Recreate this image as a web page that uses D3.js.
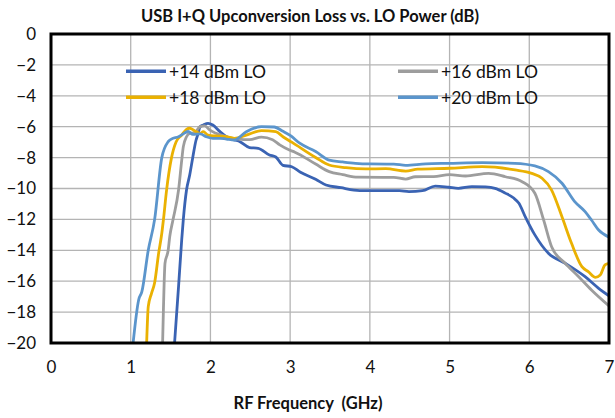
<!DOCTYPE html>
<html>
<head>
<meta charset="utf-8">
<script src="https://cdn.jsdelivr.net/npm/d3@7"></script>
<style>
    body { margin: 0; background: #fff; }
    svg text { font-family: Lato, "Open Sans", sans-serif; fill: #111; }
</style>
</head>
<body>
<svg id="chart" width="615" height="418"></svg>
<script>
// Readings (GHz, dB)
var xTicks = [0, 1, 2, 3, 4, 5, 6, 7];
var yTicks = [0, -2, -4, -6, -8, -10, -12, -14, -16, -18, -20];

var lo14Freq = [1.55, 1.60, 1.64, 1.66, 1.70, 1.74, 1.78, 1.82, 1.84, 1.87, 1.91, 1.97, 2.03, 2.12, 2.20, 2.30, 2.37, 2.49, 2.60, 2.74, 2.82, 2.91, 3.02, 3.13, 3.32, 3.45, 3.64, 3.80, 3.95, 4.16, 4.37, 4.49, 4.66, 4.82, 4.99, 5.11, 5.28, 5.45, 5.57, 5.70, 5.80, 5.87, 5.95, 6.07, 6.24, 6.45, 6.70, 6.87, 7.00];
var lo14Loss = [-20, -16.35, -13.3, -12.0, -10.1, -9.13, -7.94, -6.86, -6.54, -6.0, -5.89, -5.78, -5.89, -6.32, -6.65, -6.85, -6.97, -7.35, -7.4, -7.83, -7.96, -8.5, -8.59, -8.95, -9.4, -9.77, -9.95, -10.1, -10.14, -10.14, -10.14, -10.2, -10.14, -9.84, -9.92, -9.99, -9.88, -9.9, -9.99, -10.3, -10.6, -10.96, -11.83, -13.0, -14.19, -14.84, -15.71, -16.46, -16.95];

var lo16Freq = [1.40, 1.41, 1.43, 1.47, 1.49, 1.53, 1.60, 1.64, 1.66, 1.70, 1.74, 1.80, 1.87, 1.93, 1.99, 2.07, 2.20, 2.35, 2.49, 2.64, 2.78, 2.87, 2.99, 3.06, 3.32, 3.49, 3.66, 3.85, 4.16, 4.30, 4.45, 4.57, 4.80, 5.00, 5.20, 5.49, 5.70, 5.91, 6.07, 6.18, 6.28, 6.45, 6.62, 6.78, 7.00];
var lo16Loss = [-20, -17.9, -14.85, -14.0, -13.1, -12.04, -10.1, -8.16, -7.29, -6.65, -6.43, -6.39, -6.0, -5.95, -6.21, -6.43, -6.65, -6.8, -6.84, -6.67, -6.84, -7.18, -7.51, -7.65, -8.42, -8.91, -9.1, -9.27, -9.28, -9.28, -9.39, -9.24, -9.23, -9.1, -9.19, -9.02, -9.24, -9.56, -10.31, -12.04, -13.77, -14.84, -15.71, -16.57, -17.6];

var lo18Freq = [1.20, 1.22, 1.26, 1.30, 1.35, 1.39, 1.41, 1.45, 1.51, 1.57, 1.64, 1.70, 1.74, 1.80, 1.87, 1.91, 1.97, 2.07, 2.20, 2.30, 2.45, 2.64, 2.82, 2.91, 3.02, 3.32, 3.49, 3.70, 3.95, 4.20, 4.45, 4.60, 5.00, 5.41, 5.82, 6.03, 6.16, 6.28, 6.41, 6.53, 6.66, 6.74, 6.83, 6.89, 6.95, 7.00];
var lo18Loss = [-20, -17.65, -16.8, -16.1, -14.2, -12.9, -12.04, -10.1, -8.05, -6.97, -6.54, -6.17, -6.1, -6.26, -6.43, -6.32, -6.54, -6.6, -6.65, -6.75, -6.54, -6.26, -6.32, -6.65, -7.0, -7.99, -8.48, -8.65, -8.73, -8.72, -8.87, -8.75, -8.69, -8.59, -8.8, -9.02, -9.34, -10.1, -11.83, -13.55, -15.06, -15.38, -15.75, -15.6, -14.95, -14.85];

var lo20Freq = [1.03, 1.10, 1.14, 1.22, 1.30, 1.39, 1.47, 1.51, 1.60, 1.68, 1.72, 1.78, 1.87, 1.95, 2.03, 2.12, 2.20, 2.30, 2.45, 2.64, 2.80, 2.91, 3.01, 3.12, 3.32, 3.49, 3.66, 3.82, 4.00, 4.30, 4.45, 4.70, 4.99, 5.41, 5.82, 6.07, 6.24, 6.41, 6.57, 6.70, 6.78, 6.87, 7.00];
var lo20Loss = [-20, -17.2, -16.68, -14.0, -12.0, -8.0, -6.97, -6.8, -6.65, -6.4, -6.3, -6.5, -6.47, -6.65, -6.75, -6.75, -6.8, -6.86, -6.32, -6.0, -6.02, -6.3, -6.6, -7.07, -7.6, -8.16, -8.28, -8.37, -8.41, -8.42, -8.5, -8.4, -8.37, -8.33, -8.37, -8.54, -8.91, -9.66, -10.85, -11.5, -12.04, -12.69, -13.15];

var seriesNames = ['+14 dBm LO', '+16 dBm LO', '+18 dBm LO', '+20 dBm LO'];
var seriesColors = ['#3a63b3', '#9d9d9d', '#eab102', '#5b95cc'];

var series = [
    { name: seriesNames[0], color: seriesColors[0], freq: lo14Freq, loss: lo14Loss },
    { name: seriesNames[1], color: seriesColors[1], freq: lo16Freq, loss: lo16Loss },
    { name: seriesNames[2], color: seriesColors[2], freq: lo18Freq, loss: lo18Loss },
    { name: seriesNames[3], color: seriesColors[3], freq: lo20Freq, loss: lo20Loss }
];

var margin = { top: 34, right: 6, bottom: 75, left: 51 };
var width = 615 - margin.left - margin.right;
var height = 418 - margin.top - margin.bottom;

var svg = d3.select('svg#chart');
var g = svg.append('g').attr('transform', 'translate(' + margin.left + ',' + margin.top + ')');

var x = d3.scaleLinear().domain([0, 7]).range([0, width]);
var y = d3.scaleLinear().domain([-20, 0]).range([height, 0]);

svg.append('defs').append('clipPath').attr('id', 'plotClip')
    .append('rect').attr('x', 0).attr('y', 0).attr('width', width).attr('height', height);

// Gridlines
g.append('g').selectAll('line.vgrid')
    .data(xTicks.slice(1, -1))
    .enter().append('line')
        .attr('x1', function(d) { return x(d); })
        .attr('x2', function(d) { return x(d); })
        .attr('y1', 0).attr('y2', height)
        .attr('stroke', '#b4b4b4').attr('stroke-width', 1.3);

g.append('g').selectAll('line.hgrid')
    .data(yTicks.slice(1, -1))
    .enter().append('line')
        .attr('x1', 0).attr('x2', width)
        .attr('y1', function(d) { return y(d); })
        .attr('y2', function(d) { return y(d); })
        .attr('stroke', '#b4b4b4').attr('stroke-width', 1.3);

// Axes (labels only, frame drawn separately)
var xAxis = g.append('g')
    .attr('transform', 'translate(0,' + height + ')')
    .call(d3.axisBottom(x).tickValues(xTicks).tickFormat(d3.format('d')).tickSize(0).tickPadding(18));
var yAxis = g.append('g')
    .call(d3.axisLeft(y).tickValues(yTicks).tickFormat(d3.format('d')).tickSize(0).tickPadding(15));
[xAxis, yAxis].forEach(function(a) {
    a.select('.domain').remove();
    a.selectAll('text').style('font-size', '17px').style('font-family', 'Lato, sans-serif').attr('fill', '#111');
});

// Series lines
var line = d3.line()
    .x(function(d) { return x(d[0]); })
    .y(function(d) { return y(d[1]); })
    .curve(d3.curveMonotoneX);

g.append('g').attr('clip-path', 'url(#plotClip)')
    .selectAll('path.series')
    .data(series)
    .enter().append('path')
        .attr('class', 'series')
        .attr('fill', 'none')
        .attr('stroke', function(d) { return d.color; })
        .attr('stroke-width', 2.8)
        .attr('stroke-linejoin', 'round')
        .attr('d', function(d) { return line(d3.zip(d.freq, d.loss)); });

// Plot frame
g.append('rect')
    .attr('x', 0).attr('y', 0).attr('width', width).attr('height', height)
    .attr('fill', 'none').attr('stroke', '#000').attr('stroke-width', 3);

// Legend
var legendPos = [[126, 71], [398, 71], [126, 97], [398, 97]];
var legend = svg.append('g').selectAll('g.legend')
    .data(series)
    .enter().append('g')
        .attr('class', 'legend')
        .attr('transform', function(d, i) { return 'translate(' + legendPos[i][0] + ',' + legendPos[i][1] + ')'; });
legend.append('rect')
    .attr('x', 0).attr('y', -1.5).attr('width', 40).attr('height', 3.5)
    .attr('fill', function(d) { return d.color; });
legend.append('text')
    .attr('x', 43).attr('y', 6.5)
    .style('font-size', '17.5px')
    .text(function(d) { return d.name; });

// Titles
svg.append('text')
    .attr('x', 310).attr('y', 22)
    .attr('text-anchor', 'middle')
    .style('font-size', '16.5px').style('font-weight', 'bold')
    .text('USB I+Q Upconversion Loss vs. LO Power (dB)');

svg.append('text')
    .attr('x', 308).attr('y', 409)
    .attr('text-anchor', 'middle')
    .style('font-size', '16.5px').style('font-weight', 'bold')
    .style('white-space', 'pre')
    .text('RF Frequency  (GHz)');
</script>
</body>
</html>
